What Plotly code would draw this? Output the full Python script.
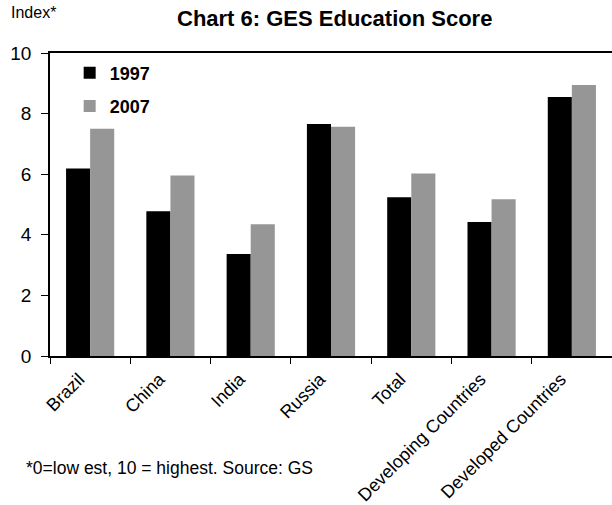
import plotly.graph_objects as go

categories = ["Brazil", "China", "India", "Russia", "Total", "Developing Countries", "Developed Countries"]
values_1997 = [6.19, 4.78, 3.37, 7.66, 5.24, 4.42, 8.55]
values_2007 = [7.50, 5.96, 4.35, 7.57, 6.02, 5.17, 8.94]
y_ticks = [0, 2, 4, 6, 8, 10]

FONT = "Liberation Sans, Arial, sans-serif"

# Plot-area pixel box in the 612x505 picture (page body margin is removed below).
W, H = 612, 505
PL, PT, PB, PR = 50, 53, 356, 612

fig = go.Figure()
fig.add_trace(go.Bar(x=categories, y=values_1997, name="1997",
                     marker=dict(color="#000000", line=dict(width=0)), legendgroup="a"))
fig.add_trace(go.Bar(x=categories, y=values_2007, name="2007",
                     marker=dict(color="#969696", line=dict(width=0)), legendgroup="b"))

def paper(xs, ys):
    return (xs - PL) / (PR - PL), (PB - ys) / (PB - PT)

fig.update_layout(
    width=W, height=H,
    margin=dict(l=PL, r=W - PR, t=PT, b=H - PB, pad=0),
    paper_bgcolor="white", plot_bgcolor="white",
    font=dict(family=FONT, color="black"),
    barmode="group", bargap=0.4, bargroupgap=0,
    showlegend=True,
    legend=dict(x=0.035, y=0.995, xanchor="left", yanchor="top", bgcolor="rgba(0,0,0,0)",
                font=dict(family=FONT, size=18, color="black", weight="bold"),
                traceorder="grouped", tracegroupgap=7, itemwidth=30),
    xaxis=dict(showline=True, linecolor="black", linewidth=1.5, mirror=True,
               ticks="outside", tickson="boundaries", ticklen=6, tickcolor="black", tickwidth=1,
               tickangle=-45, tickfont=dict(family=FONT, size=18, color="black"),
               ticklabelshift=-11, ticklabelstandoff=4,
               showgrid=False, zeroline=False),
    yaxis=dict(range=[0, 10], tickvals=y_ticks, showline=True, linecolor="black", linewidth=1.5,
               ticks="outside", ticklen=7, tickcolor="black", tickwidth=1, ticklabelstandoff=6,
               tickfont=dict(family=FONT, size=19, color="black"),
               showgrid=False, zeroline=False),
)

tx, ty = paper(334, 19)
fig.add_annotation(text="<b>Chart 6: GES Education Score</b>", x=tx, y=ty, xref="paper", yref="paper",
                   xanchor="center", yanchor="middle", showarrow=False,
                   font=dict(family=FONT, size=22, color="black"))
ax, ay = paper(9, 12)
fig.add_annotation(text="Index*", x=ax, y=ay, xref="paper", yref="paper", xanchor="left", yanchor="middle",
                   showarrow=False, font=dict(family=FONT, size=16, color="black"))
fx, fy = paper(24, 468)
fig.add_annotation(text="*0=low est, 10 = highest. Source: GS", x=fx, y=fy, xref="paper", yref="paper",
                   xanchor="left", yanchor="middle", showarrow=False,
                   font=dict(family=FONT, size=17.5, color="black"))

fig.write_html("out.html",
               config={"displayModeBar": False},
               post_script="document.body.style.margin='0';document.body.style.overflow='hidden';")
